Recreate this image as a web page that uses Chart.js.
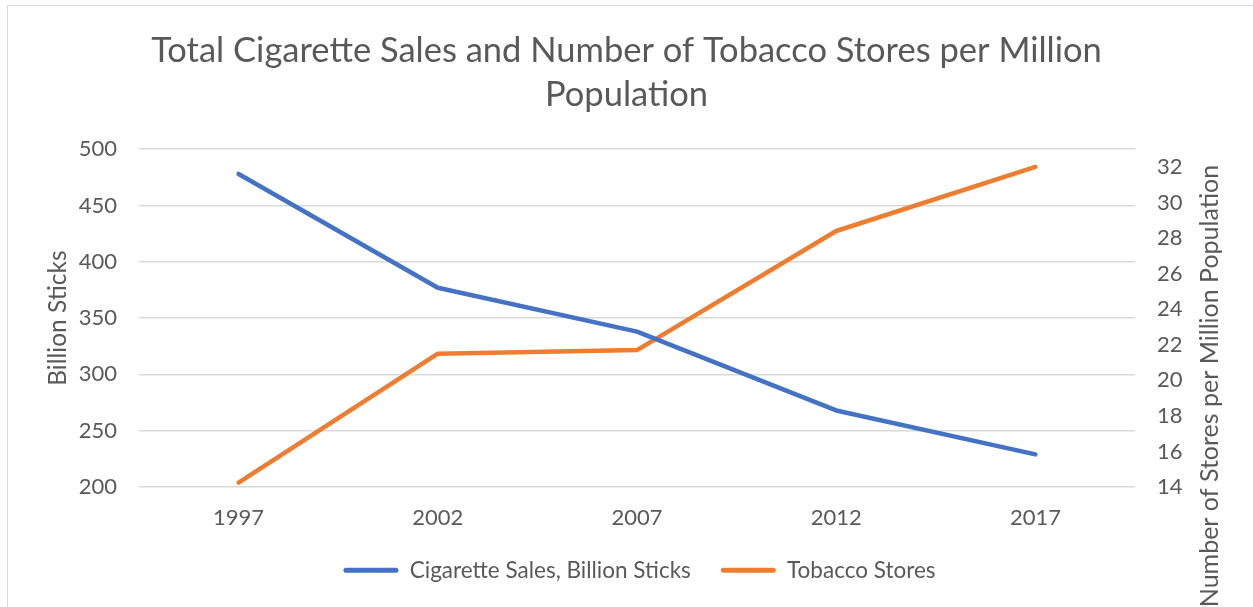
<!DOCTYPE html>
<html>
<head>
<meta charset="utf-8">
<script src="https://cdn.jsdelivr.net/npm/chart.js@4/dist/chart.umd.min.js"></script>
<style>
  html, body { margin: 0; padding: 0; background: #fff; }
  canvas { display: block; }
</style>
</head>
<body>
<canvas id="salesChart" width="1253" height="607"></canvas>
<script>
// ---- data ----
const years = ['1997', '2002', '2007', '2012', '2017'];
const salesBillions = [478, 377, 338, 268, 229];
const storesPerMillion = [14.25, 21.5, 21.7, 28.4, 32.0];

const salesTicks = [200, 250, 300, 350, 400, 450, 500];
const storeTicks = [14, 16, 18, 20, 22, 24, 26, 28, 30, 32];

const BLUE = '#4472C4';
const ORANGE = '#ED7D31';
const TEXT = '#595959';
const GRID = '#d9d9d9';
const FONT = 'Lato, "Open Sans", sans-serif';

// outer frame, legend nudge and rotated title for the secondary axis
const extras = {
  id: 'extras',
  afterLayout(chart) {
    chart.legend.left += 13;
    chart.legend.right += 13;
  },
  beforeDraw(chart) {
    const ctx = chart.ctx;
    ctx.save();
    ctx.fillStyle = '#fff';
    ctx.fillRect(0, 0, chart.width, chart.height);
    ctx.strokeStyle = GRID;
    ctx.lineWidth = 1;
    ctx.strokeRect(7.5, 5.5, 1260, 620);
    ctx.restore();
  },
  afterDraw(chart) {
    const ctx = chart.ctx;
    ctx.save();
    ctx.translate(1210, 386);
    ctx.rotate(-Math.PI / 2);
    ctx.font = '25px ' + FONT;
    ctx.fillStyle = TEXT;
    ctx.textAlign = 'center';
    ctx.textBaseline = 'middle';
    ctx.fillText('Number of Stores per Million Population', 0, 0);
    ctx.restore();
  }
};

new Chart(document.getElementById('salesChart'), {
  type: 'line',
  data: {
    labels: years,
    datasets: [{
      label: 'Cigarette Sales, Billion Sticks',
      data: salesBillions,
      yAxisID: 'y',
      borderColor: BLUE,
      backgroundColor: BLUE,
      borderWidth: 4.5,
      borderCapStyle: 'round',
      borderJoinStyle: 'round',
      pointRadius: 0,
      tension: 0
    }, {
      label: 'Tobacco Stores',
      data: storesPerMillion,
      yAxisID: 'y1',
      borderColor: ORANGE,
      backgroundColor: ORANGE,
      borderWidth: 4.5,
      borderCapStyle: 'round',
      borderJoinStyle: 'round',
      pointRadius: 0,
      tension: 0
    }]
  },
  options: {
    responsive: false,
    animation: false,
    layout: { padding: { left: 0, right: 0, top: 0, bottom: 15.5 } },
    plugins: {
      title: {
        display: true,
        text: ['Total Cigarette Sales and Number of Tobacco Stores per Million', 'Population'],
        color: TEXT,
        font: { family: FONT, size: 34.5, weight: 'normal', lineHeight: 1.3 },
        padding: { top: 28, bottom: 31.5 }
      },
      legend: {
        position: 'bottom',
        labels: {
          color: TEXT,
          font: { family: FONT, size: 22.5 },
          boxWidth: 55,
          boxHeight: 5,
          padding: 30,
          useBorderRadius: true,
          borderRadius: 2.5,
          generateLabels(chart) {
            return Chart.defaults.plugins.legend.labels.generateLabels(chart)
              .map(item => Object.assign(item, { lineWidth: 0 }));
          }
        }
      },
      tooltip: { enabled: false }
    },
    scales: {
      x: {
        offset: true,
        grid: { display: false, drawTicks: false },
        border: { display: false },
        ticks: { color: TEXT, font: { family: FONT, size: 22 }, padding: 18 },
        afterFit(scale) { scale.height = 42; }
      },
      y: {
        position: 'left',
        min: salesTicks[0],
        max: salesTicks[salesTicks.length - 1],
        ticks: { stepSize: 50, color: TEXT, font: { family: FONT, size: 22 }, padding: 22 },
        grid: { color: GRID, lineWidth: 1.5, drawTicks: false },
        border: { display: false },
        title: {
          display: true,
          text: 'Billion Sticks',
          color: TEXT,
          font: { family: FONT, size: 24.5 },
          padding: { top: 43, bottom: 0 }
        },
        afterFit(scale) { scale.width = 139; }
      },
      y1: {
        position: 'right',
        min: storeTicks[0],
        max: 33,
        ticks: { stepSize: 2, includeBounds: false, color: TEXT, font: { family: FONT, size: 22 }, padding: 22 },
        afterBuildTicks(scale) {
          scale.ticks = storeTicks.map(v => ({ value: v }));
        },
        grid: { display: false, drawTicks: false },
        border: { display: false },
        afterFit(scale) { scale.width = 118; }
      }
    }
  },
  plugins: [extras]
});
</script>
</body>
</html>
